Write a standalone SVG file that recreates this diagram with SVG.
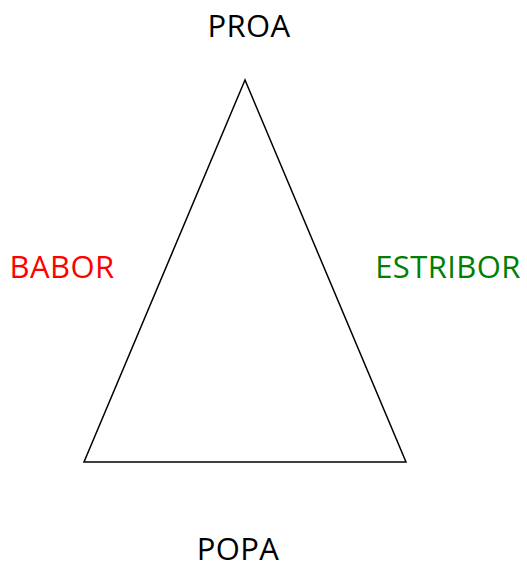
<svg xmlns="http://www.w3.org/2000/svg" width="527" height="565" viewBox="0 0 527 565">
<style>
text{font-family:"Open Sans","Noto Sans",sans-serif;font-size:31px;letter-spacing:0.4px;text-anchor:middle}
</style>
<rect width="527" height="565" fill="#fff"/>
<g id="hull"><polygon points="245,80 84,462 406,462" fill="none" stroke="#000" stroke-width="1.5"/></g>
<g id="connectors"></g>
<g id="proa"><text x="249" y="37">PROA</text></g>
<g id="babor"><text x="62" y="278" fill="#ff0000">BABOR</text></g>
<g id="estribor"><text x="448" y="278" fill="#008000">ESTRIBOR</text></g>
<g id="popa"><text x="238" y="560">POPA</text></g>
</svg>
